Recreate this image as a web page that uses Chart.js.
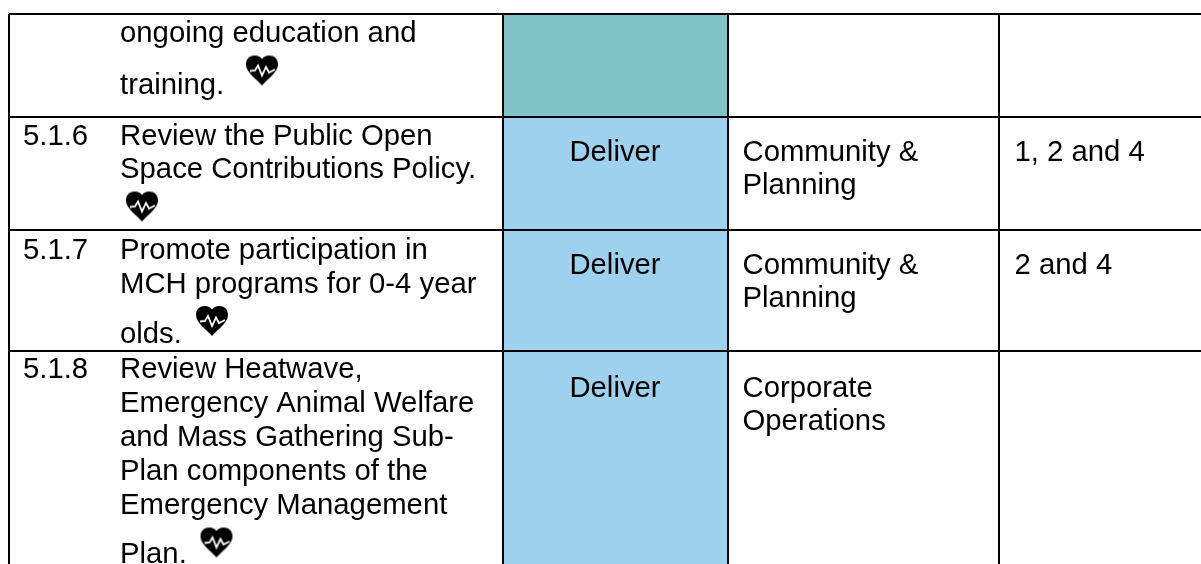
<!DOCTYPE html>
<html>
<head>
<meta charset="utf-8">
<title>Action plan table</title>
<script src="https://cdn.jsdelivr.net/npm/chart.js@4/dist/chart.umd.min.js"></script>
<style>
  html, body { margin: 0; padding: 0; background: #fff; }
  #wrap { width: 1201px; height: 564px; }
  canvas { display: block; }
</style>
</head>
<body>
<div id="wrap"><canvas id="tableChart" width="1201" height="564"></canvas></div>
<script>
// =========================
// TABLE CONTENT
// =========================
const columnEdges = [9, 502.5, 728, 999];
const rowEdges = [14, 116.5, 229.5, 351];

const roleColumn = 615;
const roleWidth = 225;
const roleSpans = [[14, 116.5], [116.5, 229.5], [229.5, 351], [351, 564]];
const roleColours = ["#7fc3c9", "#9dd1ee", "#9dd1ee", "#9dd1ee"];

const numberLabels = ["5.1.6", "5.1.7", "5.1.8"];
const numberX = [23, 23, 23];
const numberY = [145, 259, 378];

const actionLines = [
  "ongoing education and", "training.",
  "Review the Public Open", "Space Contributions Policy.",
  "Promote participation in", "MCH programs for 0-4 year", "olds.",
  "Review Heatwave,", "Emergency Animal Welfare", "and Mass Gathering Sub-",
  "Plan components of the", "Emergency Management", "Plan."
];
const actionY = [41.5, 94, 145, 178, 259, 292.5, 343, 378, 412, 446, 480, 514, 563];

const roleLabels = ["Deliver", "Deliver", "Deliver"];
const roleY = [161, 274, 397];

const teamLines = ["Community &", "Planning", "Community &", "Planning", "Corporate", "Operations"];
const teamY = [161, 194, 274, 307, 397, 430];

const themeLabels = ["1, 2 and 4", "2 and 4"];
const themeY = [161, 274];

const heartX = [262, 142, 212, 216.5];
const heartY = [70.5, 206.5, 321, 542.5];

// =========================
// HEART ICON
// =========================
function makeHeart() {
  const c = document.createElement("canvas");
  c.width = 34;
  c.height = 32;
  const g = c.getContext("2d");
  g.fillStyle = "#000";
  g.beginPath();
  g.moveTo(17, 31);
  g.bezierCurveTo(12, 25, 1, 18, 1, 10);
  g.bezierCurveTo(1, 4, 5, 1, 10, 1);
  g.bezierCurveTo(13, 1, 15.5, 2.5, 17, 4.5);
  g.bezierCurveTo(18.5, 2.5, 21, 1, 24, 1);
  g.bezierCurveTo(29, 1, 33, 4, 33, 10);
  g.bezierCurveTo(33, 18, 22, 25, 17, 31);
  g.closePath();
  g.fill();
  g.strokeStyle = "#fff";
  g.lineWidth = 1.8;
  g.beginPath();
  g.moveTo(5, 16.5);
  g.lineTo(10, 16);
  g.lineTo(13, 11);
  g.lineTo(17, 21);
  g.lineTo(21, 12.5);
  g.lineTo(24, 18);
  g.lineTo(30, 15);
  g.stroke();
  return c;
}

// =========================
// TEXT PLUGIN
// =========================
const tableText = {
  id: "tableText",
  afterDatasetsDraw(chart) {
    const { ctx, scales: { x, y } } = chart;
    const put = (txt, xv, yv, align) => {
      ctx.textAlign = align || "left";
      ctx.fillText(txt, x.getPixelForValue(xv), y.getPixelForValue(yv));
    };
    ctx.save();
    ctx.font = '29.3px "Liberation Sans", Arial, sans-serif';
    ctx.fillStyle = "#000";
    ctx.textBaseline = "alphabetic";
    numberLabels.forEach((t, i) => put(t, numberX[i], numberY[i]));
    actionLines.forEach((t, i) => put(t, 120, actionY[i]));
    roleLabels.forEach((t, i) => put(t, roleColumn, roleY[i], "center"));
    teamLines.forEach((t, i) => put(t, 742.5, teamY[i]));
    themeLabels.forEach((t, i) => put(t, 1014.5, themeY[i]));
    ctx.restore();
  }
};

// =========================
// CHART
// =========================
const chart = new Chart(document.getElementById("tableChart"), {
  data: {
    datasets: [
      {
        type: "scatter",
        data: heartX.map((v, i) => ({ x: v, y: heartY[i] })),
        pointStyle: makeHeart(),
        clip: false,
        order: 0
      },
      {
        type: "bar",
        data: roleSpans.map(s => ({ x: roleColumn, y: s })),
        backgroundColor: roleColours,
        borderSkipped: false,
        barThickness: roleWidth,
        order: 1
      }
    ]
  },
  options: {
    responsive: false,
    animation: false,
    layout: { autoPadding: false, padding: { left: 9, top: 14, right: 0, bottom: 0 } },
    plugins: { legend: { display: false }, tooltip: { enabled: false } },
    scales: {
      x: {
        type: "linear",
        offset: false,
        min: 9,
        max: 1201,
        afterBuildTicks: s => { s.ticks = columnEdges.map(v => ({ value: v })); },
        grid: { color: "#000", lineWidth: 2, drawTicks: false, offset: false, z: 1 },
        border: { display: false },
        ticks: { display: false }
      },
      y: {
        type: "linear",
        reverse: true,
        min: 14,
        max: 564,
        afterBuildTicks: s => { s.ticks = rowEdges.map(v => ({ value: v })); },
        grid: { color: "#000", lineWidth: 2, drawTicks: false, z: 1 },
        border: { display: false },
        ticks: { display: false }
      }
    }
  },
  plugins: [tableText]
});
</script>
</body>
</html>
